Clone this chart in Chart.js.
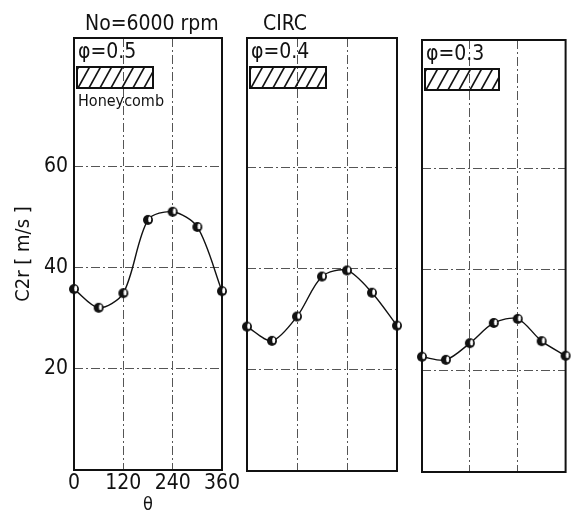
<!DOCTYPE html>
<html>
<head>
<meta charset="utf-8">
<script src="https://cdn.jsdelivr.net/npm/chart.js@4/dist/chart.umd.min.js"></script>
<style>
  html, body { margin: 0; padding: 0; background: #fff; }
  #wrap { position: relative; width: 572px; height: 512px; overflow: hidden; background: #fff; }
  #wrap canvas { position: absolute; left: 0; top: 0; }
</style>
</head>
<body>
<div id="wrap">
  <canvas id="panel0" width="572" height="512"></canvas>
  <canvas id="panel1" width="572" height="512"></canvas>
  <canvas id="panel2" width="572" height="512"></canvas>
</div>
<script>
// Circumferential position (deg) and radial velocity C2r (m/s) per flow coefficient
const theta = [0, 60, 120, 180, 240, 300, 360];
const c2rPhi05 = [35.8, 32.1, 35.0, 49.5, 51.1, 48.1, 35.4];
const c2rPhi04 = [28.5, 25.7, 30.5, 38.4, 39.6, 35.2, 28.7];
const c2rPhi03 = [22.8, 22.2, 25.5, 29.5, 30.3, 25.9, 23.0];

const phiLabels = ['φ=0.5', 'φ=0.4', 'φ=0.3'];
const headings = ['No=6000 rpm', 'CIRC', ''];
const boxLabels = ['Honeycomb', '', ''];
const xTicks = [0, 120, 240, 360];
const yTicks = [20, 40, 60];
const yTitle = 'C2r [ m/s ]';
const xTitle = 'θ';

const FONT = '"DejaVu Sans Condensed", "DejaVu Sans", sans-serif';
const INK = '#111';
const GRID = '#555';
const dash = [9, 3, 2, 3];

// Panel placement on the page: plot-area edges in px
const panels = [
  { left: 74,  right: 222, top: 38, bottom: 470, data: c2rPhi05, axes: true },
  { left: 247, right: 397, top: 38, bottom: 471, data: c2rPhi04, axes: false },
  { left: 422, right: 569, top: 40, bottom: 472, data: c2rPhi03, axes: false }
];

// Half-shaded circular marker
function makeMarker() {
  const c = document.createElement('canvas');
  c.width = 12; c.height = 12;
  const g = c.getContext('2d');
  g.beginPath(); g.arc(6, 6, 5, 0, Math.PI * 2);
  g.fillStyle = INK; g.fill();
  g.beginPath(); g.ellipse(7.7, 5.4, 1.5, 2.9, 0, 0, Math.PI * 2);
  g.fillStyle = '#fff'; g.fill();
  return c;
}
const marker = makeMarker();

// Draws the panel frame, heading, φ label and hatched honeycomb bar
const panelDecor = {
  id: 'panelDecor',
  beforeDatasetsDraw(chart) {
    const a = chart.chartArea, ctx = chart.ctx;
    ctx.save();
    ctx.strokeStyle = INK; ctx.lineWidth = 2;
    ctx.strokeRect(a.left, a.top, a.right - a.left, a.bottom - a.top);
    ctx.restore();
  },
  afterDraw(chart, args, opts) {
    const a = chart.chartArea, ctx = chart.ctx;
    ctx.save();
    ctx.fillStyle = INK;
    ctx.textBaseline = 'alphabetic';
    ctx.textAlign = 'left';
    if (opts.heading) {
      ctx.font = '21px ' + FONT;
      ctx.fillText(opts.heading, a.left + opts.headDx, a.top - 8);
    }
    ctx.font = '21px ' + FONT;
    ctx.fillText(opts.phi, a.left + 4, a.top + 20);

    // hatched bar
    const bx = a.left + 3, by = a.top + 29, bw = opts.barW, bh = 21;
    ctx.save();
    ctx.beginPath(); ctx.rect(bx, by, bw, bh); ctx.clip();
    ctx.strokeStyle = INK; ctx.lineWidth = 1.6;
    for (let x = bx - bh; x < bx + bw + bh; x += 11) {
      ctx.beginPath(); ctx.moveTo(x, by + bh); ctx.lineTo(x + bh * 0.55, by); ctx.stroke();
    }
    ctx.restore();
    ctx.strokeStyle = INK; ctx.lineWidth = 2;
    ctx.strokeRect(bx, by, bw, bh);

    if (opts.box) {
      ctx.font = '16px ' + FONT;
      ctx.fillText(opts.box, a.left + 4, a.top + 68);
    }
    ctx.restore();
  }
};

panels.forEach((p, i) => {
  const yAxisW = p.axes ? 74 : 0;
  const xAxisH = p.axes ? 42 : 0;
  new Chart(document.getElementById('panel' + i), {
    type: 'line',
    data: {
      datasets: [{
        data: theta.map((t, k) => ({ x: t, y: p.data[k] })),
        borderColor: INK,
        borderWidth: 1.4,
        tension: 0.3,
        pointStyle: marker,
        pointRadius: 5,
        clip: false
      }]
    },
    options: {
      responsive: false,
      animation: false,
      events: [],
      layout: {
        padding: {
          left: p.left - yAxisW,
          right: 572 - p.right,
          top: p.top,
          bottom: 512 - p.bottom - xAxisH
        }
      },
      plugins: {
        legend: { display: false },
        tooltip: { enabled: false },
        title: { display: false },
        panelDecor: {
          heading: headings[i],
          headDx: i === 0 ? 11 : 16,
          phi: phiLabels[i],
          box: boxLabels[i],
          barW: i === 2 ? 74 : 76
        }
      },
      scales: {
        x: {
          type: 'linear',
          min: 0, max: 360,
          afterBuildTicks: s => { s.ticks = xTicks.map(v => ({ value: v })); },
          afterFit: s => { s.height = xAxisH; },
          border: { display: false, dash: dash },
          grid: {
            drawTicks: false,
            color: c => (c.tick && (c.tick.value === 120 || c.tick.value === 240)) ? GRID : 'rgba(0,0,0,0)',
            lineWidth: 1
          },
          ticks: {
            display: p.axes,
            padding: 1,
            color: INK,
            font: { family: FONT, size: 21 },
            maxRotation: 0,
            autoSkip: false
          },
          title: {
            display: p.axes,
            text: xTitle,
            color: INK,
            font: { family: FONT, size: 18, lineHeight: 0.7 },
            padding: { top: 0, bottom: 0 }
          }
        },
        y: {
          type: 'linear',
          min: 0, max: 85.5,
          afterBuildTicks: s => { s.ticks = yTicks.map(v => ({ value: v })); },
          afterFit: s => { s.width = yAxisW; },
          border: { display: false, dash: dash },
          grid: {
            drawTicks: false,
            color: GRID,
            lineWidth: 1
          },
          ticks: {
            display: p.axes,
            padding: 6,
            color: INK,
            font: { family: FONT, size: 21 }
          },
          title: {
            display: p.axes,
            text: yTitle,
            color: INK,
            font: { family: FONT, size: 20 },
            padding: { top: 12, bottom: 0 }
          }
        }
      }
    },
    plugins: [panelDecor]
  });
});
</script>
</body>
</html>
